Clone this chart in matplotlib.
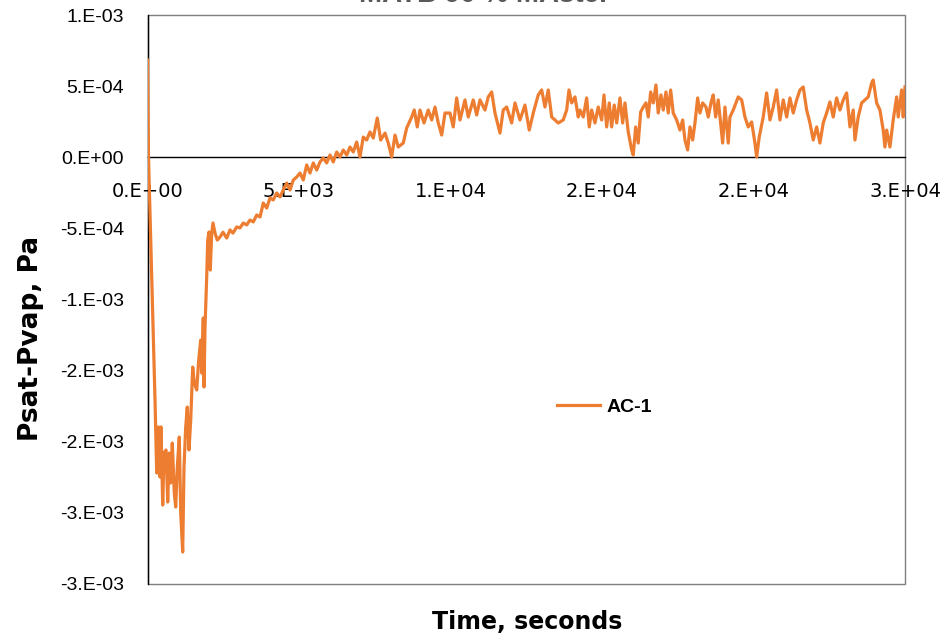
import numpy as np
import matplotlib
matplotlib.use("Agg")
import matplotlib.pyplot as plt
from matplotlib.patches import Rectangle

# ---------------------------------------------------------
# Data
# ---------------------------------------------------------
SERIES_NAME = "AC-1"

time_s = [
    0, 33, 248, 304, 356, 413, 446, 502, 545, 611, 667, 719, 766, 818, 884, 931,
    983, 1049, 1096, 1162, 1205, 1261, 1313, 1370, 1426, 1492, 1544, 1624, 1690,
    1756, 1789, 1841, 1865, 1898, 1954, 1987, 2030, 2072, 2119, 2162, 2228, 2303,
    2393, 2492, 2614, 2723, 2822, 2944, 3053, 3161, 3274, 3383, 3491, 3604, 3713,
    3821, 3934, 4043, 4151, 4264, 4373, 4481, 4594, 4703, 4811, 4924, 5033, 5141,
    5254, 5363, 5471, 5584, 5693, 5801, 5914, 6023, 6131, 6244, 6353, 6461, 6574,
    6683, 6791, 6904, 7013, 7121, 7234, 7343, 7451, 7583, 7696, 7838, 7946, 8059,
    8168, 8276, 8441, 8554, 8719, 8804, 8903, 8993, 9125, 9266, 9379, 9488, 9596,
    9709, 9818, 9983, 10091, 10204, 10313, 10478, 10586, 10751, 10864, 10973,
    11138, 11246, 11359, 11468, 11633, 11741, 11854, 12019, 12128, 12293, 12458,
    12599, 12731, 12896, 13009, 13118, 13226, 13339, 13448, 13556, 13721, 13834,
    13910, 13999, 14108, 14216, 14273, 14381, 14494, 14579, 14659, 14768, 14876,
    14989, 15065, 15154, 15239, 15319, 15404, 15484, 15593, 15682, 15758, 15866,
    15979, 16031, 16111, 16196, 16276, 16361, 16451, 16526, 16606, 16691, 16781,
    16856, 16946, 17021, 17111, 17186, 17266, 17351, 17464, 17573, 17662, 17738,
    17827, 17903, 17992, 18068, 18157, 18233, 18322, 18431, 18506, 18596, 18671,
    18751, 18836, 18916, 18982, 19058, 19166, 19223, 19331, 19496, 19609, 19718,
    19826, 19939, 20048, 20104, 20189, 20321, 20434, 20543, 20651, 20764, 20873,
    20981, 21094, 21203, 21311, 21424, 21533, 21641, 21754, 21863, 21971, 22084,
    22193, 22301, 22414, 22523, 22631, 22744, 22853, 22961, 23074, 23183, 23291,
    23348, 23456, 23569, 23678, 23786, 23899, 23951, 24064, 24173, 24281, 24338,
    24394, 24503, 24611, 24724, 24776, 24889, 24941, 25000,
]

# Psat-Pvap in units of 1e-4 Pa
psat_pvap_e4 = [
    6.84, 0.0, -17.07, -22.2, -18.96, -22.48, -18.96, -24.45, -20.79, -20.58,
    -24.24, -20.79, -22.90, -20.09, -23.60, -24.59, -21.78, -19.67, -25.01,
    -27.75, -21.78, -18.96, -17.56, -20.58, -18.47, -14.75, -15.87, -16.36,
    -14.25, -12.85, -15.17, -11.30, -16.15, -11.93, -8.42, -5.82, -5.25, -7.93,
    -5.33, -4.62, -5.33, -5.82, -5.61, -5.27, -5.68, -5.11, -5.33, -4.90, -4.97,
    -4.62, -4.76, -4.41, -4.55, -4.06, -4.20, -3.22, -3.57, -2.86, -3.00, -2.51,
    -2.79, -2.30, -1.81, -2.30, -1.60, -1.39, -1.11, -1.60, -0.54, -1.11, -0.40,
    -0.90, -0.33, -0.05, -0.40, 0.16, -0.33, 0.37, 0.02, 0.51, 0.16, 0.72, 0.37,
    1.07, 0.02, 1.42, 1.21, 1.78, 1.35, 2.76, 1.21, 1.70, 1.00, 0.02, 1.56,
    0.72, 1.00, 2.06, 2.83, 3.32, 2.13, 3.32, 2.41, 3.32, 2.62, 3.53, 2.41,
    1.56, 3.11, 3.11, 2.13, 4.17, 2.62, 4.03, 2.83, 4.03, 2.97, 4.03, 3.32,
    4.24, 4.59, 3.11, 1.70, 3.32, 3.53, 2.41, 3.82, 2.62, 3.67, 1.91, 3.11,
    4.38, 4.73, 3.53, 4.73, 2.83, 2.62, 2.41, 2.62, 3.32, 4.73, 3.82, 4.24,
    2.83, 3.32, 2.83, 4.17, 2.13, 3.32, 2.41, 3.53, 2.62, 4.38, 2.13, 3.82,
    2.13, 3.67, 2.41, 4.17, 2.41, 3.82, 1.78, 0.51, 0.16, 2.13, 1.00, 3.18,
    3.53, 3.82, 2.83, 4.59, 3.82, 5.08, 3.11, 4.38, 3.32, 4.59, 3.11, 4.73,
    3.11, 2.62, 1.91, 2.62, 1.21, 0.51, 2.13, 1.21, 2.41, 4.17, 3.11, 3.82,
    3.53, 2.83, 3.82, 4.38, 2.83, 4.03, 2.41, 1.00, 3.53, 1.00, 2.83, 3.32,
    4.24, 4.03, 2.83, 2.13, 2.48, 1.00, 0.02, 1.42, 2.83, 4.52, 2.62, 3.53,
    4.73, 2.62, 4.03, 2.83, 4.17, 3.11, 4.03, 4.73, 4.94, 3.32, 2.41, 1.21,
    2.13, 1.00, 2.41, 3.11, 3.89, 2.83, 4.17, 3.32, 4.03, 4.52, 2.13, 3.32,
    1.21, 2.83, 3.82, 4.03, 4.24, 5.22, 5.43, 3.82, 3.32, 1.91, 0.72, 1.91,
    0.72, 2.62, 4.24, 2.83, 4.73, 2.83, 4.94,
]

x_ticks = [0, 5000, 10000, 15000, 20000, 25000]
x_tick_labels = ["0.E+00", "5.E+03", "1.E+04", "2.E+04", "2.E+04", "3.E+04"]

y_ticks = [1e-3, 5e-4, 0.0, -5e-4, -1e-3, -1.5e-3, -2e-3, -2.5e-3, -3e-3]
y_tick_labels = ["1.E-03", "5.E-04", "0.E+00", "-5.E-04", "-1.E-03",
                 "-2.E-03", "-2.E-03", "-3.E-03", "-3.E-03"]

LINE_COLOR = "#ED7D31"
NARROW = ["Liberation Sans Narrow", "Liberation Sans", "DejaVu Sans"]

# ---------------------------------------------------------
# Plot
# ---------------------------------------------------------
t = np.array(time_s, dtype=float)
y = np.array(psat_pvap_e4, dtype=float) * 1e-4

fig = plt.figure(figsize=(9.43, 6.37), dpi=100)
ax = fig.add_axes([147.5 / 943, 53 / 637, 757.5 / 943, 569 / 637])

# horizontal axis crosses at zero, like the spreadsheet chart
# (set before tick labels: moving a spine resets the ticks)
ax.spines["bottom"].set_position(("data", 0))
ax.spines["bottom"].set_color("black")
ax.spines["bottom"].set_linewidth(1.0)
ax.spines["left"].set_color("black")
ax.spines["left"].set_linewidth(1.0)
ax.spines["top"].set_visible(False)
ax.spines["right"].set_visible(False)

ax.plot(t, y, color=LINE_COLOR, lw=2.3, label=SERIES_NAME, zorder=3,
        solid_joinstyle="round")

ax.set_xlim(0, 25000)
ax.set_ylim(-3e-3, 1e-3)

ax.set_xticks(x_ticks)
ax.set_xticklabels(x_tick_labels, fontsize=14, family="DejaVu Sans")
ax.set_yticks(y_ticks)
ax.set_yticklabels(y_tick_labels, fontsize=14, family=NARROW)
ax.tick_params(axis="x", length=0, pad=17.5)
ax.tick_params(axis="y", length=0, pad=17)

# plot-area border
ax.add_patch(Rectangle((0, 0), 1, 1, transform=ax.transAxes, fill=False,
                       edgecolor="#7f7f7f", lw=1.0, clip_on=False, zorder=1))

leg = ax.legend(loc="center left", bbox_to_anchor=(0.541, 0.311),
                frameon=False, borderaxespad=0, borderpad=0,
                handlelength=2.2, handletextpad=0.35,
                prop={"family": NARROW, "weight": "bold", "size": 14})

fig.text(527 / 943, 1 - 622 / 637, "Time, seconds", ha="center", va="center",
         fontsize=17, fontweight="bold", family="DejaVu Sans")
fig.text(31 / 943, 1 - 338 / 637, "Psat-Pvap, Pa", ha="center", va="center",
         rotation=90, fontsize=19, fontweight="bold", family="DejaVu Sans")

# title sits mostly above the visible canvas in the reference
fig.text(488 / 943, 1 - 7.5 / 637, "MATB 90 % MAsteP", ha="center",
         va="bottom", fontsize=20, fontweight="bold", color="#595959",
         family=NARROW)

fig.savefig("out.png", dpi=100)
